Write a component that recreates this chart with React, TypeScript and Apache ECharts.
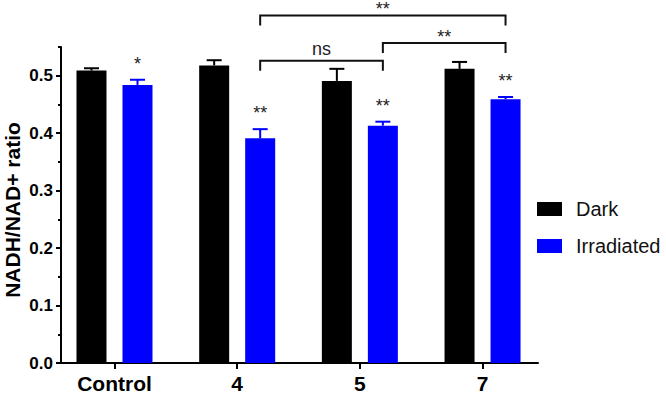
import React, { useEffect, useRef } from 'react';
import * as echarts from 'echarts';

// Group labels and measured values (mean ± SEM)
const categories = ['Control', '4', '5', '7'];
const darkMean = [0.509, 0.518, 0.491, 0.512];
const darkErr = [0.004, 0.009, 0.021, 0.012];
const irrMean = [0.484, 0.391, 0.413, 0.459];
const irrErr = [0.009, 0.016, 0.007, 0.004];
const irrSig = ['*', '**', '**', '**'];

// Pairwise comparisons between irradiated groups
const bracketFrom = [1, 2, 1];
const bracketTo = [2, 3, 3];
const bracketLevel = [0.526, 0.557, 0.605];
const bracketText = ['ns', '**', '**'];

// Y axis ticks
const yMajorTicks = [0, 0.1, 0.2, 0.3, 0.4, 0.5];
const yMinorTicks = [0.05, 0.15, 0.25, 0.35, 0.45, 0.55];
const catTicks = [0, 1, 2, 3];
const yTitle = 'NADH/NAD+ ratio';

const BLACK = '#000000';
const BLUE = '#0000ff';
const FONT = 'Liberation Sans, Arial, sans-serif';
const BAR_W = 30;
const BAR_GAP = 16;
const HALF = (BAR_W + BAR_GAP) / 2;
const CAP = 7.5;

function errorSeries(means: number[], errs: number[], color: string, dx: number) {
  return {
    type: 'custom',
    clip: false,
    z: 3,
    silent: true,
    encode: { x: 0, y: 1 },
    data: means.map((m, i) => [i, m, errs[i]]),
    renderItem: (_p: any, api: any) => {
      const x = api.value(0);
      const m = api.value(1);
      const e = api.value(2);
      const base = api.coord([x, m]);
      const top = api.coord([x, m + e]);
      const cx = base[0] + dx;
      return {
        type: 'group',
        children: [
          { type: 'line', shape: { x1: cx, y1: base[1], x2: cx, y2: top[1] }, style: { stroke: color, lineWidth: 2 } },
          { type: 'line', shape: { x1: cx - CAP, y1: top[1], x2: cx + CAP, y2: top[1] }, style: { stroke: color, lineWidth: 2 } },
        ],
      };
    },
  };
}

export default function App() {
  const ref = useRef<HTMLDivElement>(null);

  useEffect(() => {
    if (!ref.current) return;
    const chart = echarts.init(ref.current, undefined, { renderer: 'svg' });

    chart.setOption({
      animation: false,
      grid: { left: 61, right: 128, top: 47, bottom: 31, containLabel: false, outerBoundsMode: 'none' },
      graphic: [
        {
          // rotated y axis title
          type: 'text',
          x: 12,
          y: 210,
          rotation: Math.PI / 2,
          style: {
            text: yTitle,
            fontSize: 21,
            fontWeight: 'bold',
            fontFamily: FONT,
            fill: '#000',
            align: 'center',
            verticalAlign: 'middle',
          },
        },
      ],
      legend: {
        orient: 'vertical',
        left: 537,
        top: 199,
        padding: 0,
        itemWidth: 25,
        itemHeight: 14,
        itemGap: 17,
        icon: 'rect',
        selectedMode: false,
        data: ['Dark', 'Irradiated'],
        textStyle: { fontSize: 20, fontFamily: FONT, color: '#111', padding: [0, 0, 0, 9] },
      },
      xAxis: {
        type: 'value',
        min: -0.436,
        max: 3.452,
        splitLine: { show: false },
        axisLine: { onZero: false, lineStyle: { color: BLACK, width: 2 } },
        axisTick: { customValues: catTicks, length: 6, lineStyle: { color: BLACK, width: 2 } },
        axisLabel: {
          customValues: catTicks,
          formatter: (v: number) => categories[Math.round(v)] ?? '',
          fontSize: 21,
          lineHeight: 20,
          fontWeight: 'bold',
          fontFamily: FONT,
          color: '#000',
          margin: 10,
        },
      },
      yAxis: [
        {
          type: 'value',
          min: 0,
          max: 0.55,
          interval: 0.1,
          splitLine: { show: false },
          axisLine: { show: true, onZero: false, lineStyle: { color: BLACK, width: 2 } },
          axisTick: { customValues: yMajorTicks, length: 5, lineStyle: { color: BLACK, width: 2 } },
          axisLabel: {
            customValues: yMajorTicks,
            formatter: (v: number) => v.toFixed(1),
            fontSize: 17,
            fontWeight: 'bold',
            fontFamily: FONT,
            color: '#000',
            margin: 8,
          },
        },
        {
          type: 'value',
          min: 0,
          max: 0.55,
          interval: 0.05,
          position: 'left',
          splitLine: { show: false },
          axisLine: { show: false, onZero: false },
          axisTick: { customValues: yMinorTicks, length: 3, lineStyle: { color: BLACK, width: 2 } },
          axisLabel: { show: false },
        },
      ],
      series: [
        {
          type: 'bar',
          name: 'Dark',
          data: darkMean.map((v, i) => [i, v]),
          barWidth: BAR_W,
          barGap: `${(BAR_GAP / BAR_W) * 100}%`,
          itemStyle: { color: BLACK },
        },
        {
          type: 'bar',
          name: 'Irradiated',
          data: irrMean.map((v, i) => [i, v]),
          barWidth: BAR_W,
          barGap: `${(BAR_GAP / BAR_W) * 100}%`,
          itemStyle: { color: BLUE },
        },
        errorSeries(darkMean, darkErr, BLACK, -HALF),
        errorSeries(irrMean, irrErr, BLUE, HALF),
        {
          // significance marks over the irradiated bars
          type: 'custom',
          clip: false,
          silent: true,
          z: 4,
          encode: { x: 0, y: 1 },
          data: irrMean.map((m, i) => [i, m + irrErr[i]]),
          renderItem: (_p: any, api: any) => {
            const i = api.value(0);
            const pt = api.coord([i, api.value(1)]);
            return {
              type: 'text',
              x: pt[0] + HALF,
              y: pt[1] - 16,
              style: {
                text: irrSig[Math.round(i)],
                fontSize: 18,
                fontFamily: FONT,
                fill: '#222',
                align: 'center',
                verticalAlign: 'middle',
              },
            };
          },
        },
        {
          // comparison brackets between irradiated groups
          type: 'custom',
          clip: false,
          silent: true,
          z: 4,
          encode: { x: 0, y: 1 },
          data: bracketLevel.map((lv, i) => [bracketFrom[i], lv, bracketTo[i], i]),
          renderItem: (_p: any, api: any) => {
            const lv = api.value(1);
            const a = api.coord([api.value(0), lv]);
            const b = api.coord([api.value(2), lv]);
            const x1 = a[0] + HALF;
            const x2 = b[0] + HALF;
            const y = a[1];
            const idx = Math.round(api.value(3));
            const txt = bracketText[idx];
            return {
              type: 'group',
              children: [
                {
                  type: 'polyline',
                  shape: { points: [[x1, y + 10], [x1, y], [x2, y], [x2, y + 10]] },
                  style: { stroke: '#111', lineWidth: 2, fill: 'none' },
                },
                {
                  type: 'text',
                  x: (x1 + x2) / 2,
                  y: y - (txt === 'ns' ? 12 : 6),
                  style: {
                    text: txt,
                    fontSize: 18,
                    fontFamily: FONT,
                    fill: '#222',
                    align: 'center',
                    verticalAlign: 'middle',
                  },
                },
              ],
            };
          },
        },
      ],
    });

    return () => chart.dispose();
  }, []);

  return <div ref={ref} style={{ position: 'absolute', left: 0, top: 0, width: 666, height: 394 }} />;
}
